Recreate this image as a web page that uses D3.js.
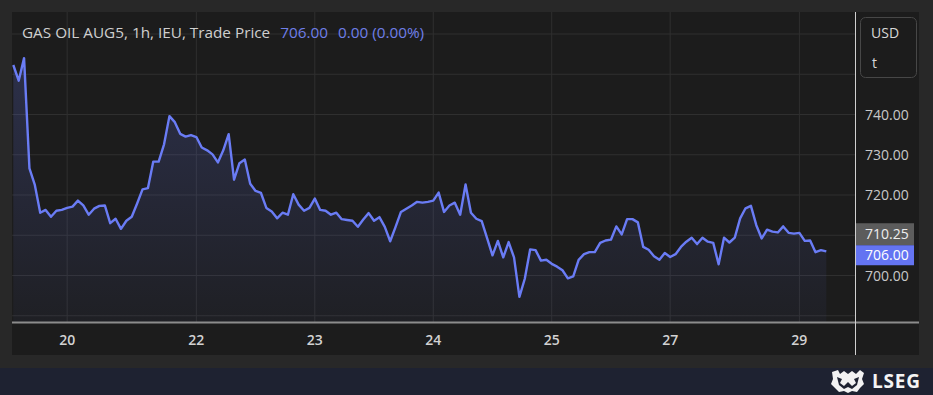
<!DOCTYPE html>
<html>
<head>
<meta charset="utf-8">
<script src="https://cdn.jsdelivr.net/npm/d3@7"></script>
<style>
  html, body { margin: 0; padding: 0; background: #282828; }
  svg { display: block; font-family: "Open Sans", sans-serif; }
</style>
</head>
<body>
<div id="chart"></div>
<script>
// Hourly trade prices, one per bar (weekend gap removed, bars are evenly spaced)
const prices = [
  752.3, 748.4, 754.0, 726.6, 722.5, 715.6, 716.3, 714.6, 716.1, 716.3,
  716.8, 717.1, 718.6, 717.4, 715.1, 716.6, 717.3, 717.4, 713.0, 714.1,
  711.6, 713.6, 714.6, 717.9, 721.4, 721.7, 728.3, 728.3, 732.6, 739.6,
  738.1, 735.2, 734.5, 734.9, 734.4, 731.8, 731.1, 730.1, 728.1, 731.1,
  735.1, 723.8, 727.9, 728.8, 722.8, 721.0, 720.5, 716.8, 715.9, 714.2,
  715.6, 715.1, 720.2, 717.6, 716.1, 716.8, 719.1, 716.3, 716.1, 715.1,
  715.6, 714.0, 713.8, 713.6, 712.1, 713.9, 715.5, 713.6, 714.5, 712.1,
  708.5, 712.1, 715.8, 716.6, 717.4, 718.3, 718.1, 718.3, 718.6, 720.6,
  715.8, 717.4, 718.1, 715.1, 722.6, 715.6, 714.1, 713.5, 709.3, 705.0,
  708.6, 704.5, 708.3, 704.5, 694.7, 699.2, 706.5, 706.3, 703.7, 703.9,
  702.9, 702.2, 701.3, 699.3, 699.8, 703.9, 705.3, 705.8, 705.8, 708.1,
  708.7, 708.9, 712.2, 710.2, 714.0, 714.0, 713.2, 707.1, 706.4, 704.8,
  703.9, 705.6, 704.6, 705.3, 707.1, 708.4, 709.4, 707.8, 709.4, 708.4,
  708.1, 702.8, 709.4, 708.2, 709.4, 714.2, 716.7, 717.3, 712.5, 709.2,
  711.4, 710.9, 710.7, 712.2, 710.6, 710.4, 710.6, 708.6, 708.7, 705.8,
  706.3, 706.0
];

// Day labels and the bar index where each day starts
const tickLabels = ["20", "22", "23", "24", "25", "27", "29"];
const tickBars = [10, 34, 56, 78, 100, 122, 146];

// Price axis
const gridPrices = [690, 700, 710, 720, 730, 740, 750, 760];
const labelPrices = [700, 720, 730, 740];
const refPrice = 710.25;
const lastPrice = 706.00;

const width = 933;
const height = 395;
const plot = { left: 12, top: 12, right: 855.5, bottom: 322 };

const svg = d3.select("#chart").append("svg")
    .attr("width", width)
    .attr("height", height);

// backgrounds
svg.append("rect").attr("width", width).attr("height", height).attr("fill", "#282828");
svg.append("rect").attr("x", 0).attr("y", 368).attr("width", width).attr("height", 27).attr("fill", "#1e2231");
svg.append("rect").attr("x", 12).attr("y", 12).attr("width", 907).attr("height", 343).attr("fill", "#1c1c1c");

// scales
const x = d3.scaleLinear()
    .domain([0, prices.length - 1])
    .range([13.3, 826.3]);

const y = d3.scaleLinear()
    .domain([700, 740])
    .range([275.5, 114.5]);

// grid
const grid = svg.append("g");
grid.selectAll(".hgrid")
    .data(gridPrices)
    .enter().append("line")
    .attr("x1", plot.left).attr("x2", plot.right)
    .attr("y1", d => y(d)).attr("y2", d => y(d))
    .attr("stroke", "#2f2f2f").attr("stroke-width", 1);

grid.selectAll(".vgrid")
    .data(tickBars)
    .enter().append("line")
    .attr("x1", d => x(d)).attr("x2", d => x(d))
    .attr("y1", plot.top).attr("y2", plot.bottom)
    .attr("stroke", "#2f2f2f").attr("stroke-width", 1);

// area gradient
const defs = svg.append("defs");
const grad = defs.append("linearGradient")
    .attr("id", "areaFill")
    .attr("gradientUnits", "userSpaceOnUse")
    .attr("x1", 0).attr("x2", 0)
    .attr("y1", y(d3.max(prices))).attr("y2", plot.bottom);
grad.append("stop").attr("offset", 0).attr("stop-color", "#6677ee").attr("stop-opacity", 0.22);
grad.append("stop").attr("offset", 1).attr("stop-color", "#6677ee").attr("stop-opacity", 0.04);

const clip = defs.append("clipPath").attr("id", "plotClip");
clip.append("rect")
    .attr("x", plot.left).attr("y", plot.top)
    .attr("width", plot.right - plot.left).attr("height", plot.bottom - plot.top);

const area = d3.area()
    .x((d, i) => x(i))
    .y0(plot.bottom)
    .y1(d => y(d));

const line = d3.line()
    .x((d, i) => x(i))
    .y(d => y(d));

const series = svg.append("g").attr("clip-path", "url(#plotClip)");
series.append("path")
    .datum(prices)
    .attr("d", area)
    .attr("fill", "url(#areaFill)");
series.append("path")
    .datum(prices)
    .attr("d", line)
    .attr("fill", "none")
    .attr("stroke", "#6a7cf5")
    .attr("stroke-width", 2.4)
    .attr("stroke-linejoin", "round");

// x axis line + labels
svg.append("line")
    .attr("x1", 12).attr("x2", 919)
    .attr("y1", plot.bottom + 0.5).attr("y2", plot.bottom + 0.5)
    .attr("stroke", "#8c8c8c").attr("stroke-width", 2);

svg.selectAll(".xlabel")
    .data(tickBars)
    .enter().append("text")
    .attr("x", d => x(d))
    .attr("y", 345)
    .attr("text-anchor", "middle")
    .attr("font-size", 14)
    .attr("font-weight", 600)
    .attr("fill", "#d2d2d2")
    .text((d, i) => tickLabels[i]);

// price scale separator
svg.append("line")
    .attr("x1", plot.right).attr("x2", plot.right)
    .attr("y1", 12).attr("y2", 355)
    .attr("stroke", "#cfcfcf").attr("stroke-width", 1);

// y labels
svg.selectAll(".ylabel")
    .data(labelPrices)
    .enter().append("text")
    .attr("x", 865)
    .attr("y", d => y(d) + 5)
    .attr("font-size", 14)
    .attr("fill", "#c8c8c8")
    .text(d => d.toFixed(2));

// reference price box
const refTop = y(refPrice) - 11;
svg.append("rect")
    .attr("x", 856).attr("y", refTop)
    .attr("width", 58).attr("height", 22)
    .attr("fill", "#5c5c5c");
svg.append("text")
    .attr("x", 865).attr("y", refTop + 16)
    .attr("font-size", 14).attr("fill", "#eeeeee")
    .text(refPrice.toFixed(2));

// last price box (pushed below the reference box)
const lastTop = Math.max(y(lastPrice) - 10, refTop + 22);
svg.append("rect")
    .attr("x", 856).attr("y", lastTop)
    .attr("width", 58).attr("height", 20)
    .attr("fill", "#6474f2");
svg.append("text")
    .attr("x", 865).attr("y", lastTop + 15)
    .attr("font-size", 14).attr("fill", "#ffffff")
    .text(lastPrice.toFixed(2));

// currency / unit box
svg.append("rect")
    .attr("x", 860.5).attr("y", 17.5)
    .attr("width", 56).attr("height", 60)
    .attr("rx", 5)
    .attr("fill", "#1c1c1c")
    .attr("stroke", "#474747");
svg.append("text").attr("x", 871).attr("y", 38).attr("font-size", 14).attr("fill", "#d8d8d8").text("USD");
svg.append("text").attr("x", 872).attr("y", 68).attr("font-size", 14).attr("fill", "#d8d8d8").text("t");

// header
const header = svg.append("text")
    .attr("x", 22).attr("y", 37.5)
    .attr("font-size", 15.3)
    .attr("fill", "#cfcfcf");
header.append("tspan").text("GAS OIL AUG5, 1h, IEU, Trade Price");
header.append("tspan").attr("dx", 10).attr("fill", "#6f7fe8").text(lastPrice.toFixed(2));
header.append("tspan").attr("dx", 10).attr("fill", "#6f7fe8").text("0.00 (0.00%)");

// LSEG mark
const logo = svg.append("g").attr("transform", "translate(830,370)");
logo.append("path")
    .attr("d", "M2 2 L8 0 L10 4 L14 1 L18 4 L22 1 L26 4 L30 0 L34 3 L32 9 L34 14 L30 18 L27 22 L22 21 L18 23 L14 21 L9 22 L5 18 L1 14 L3 9 Z")
    .attr("fill", "#f2f2f2");
logo.append("path")
    .attr("d", "M7 7 L12 9 L10 13 L14 16 L18 12 L22 16 L26 13 L24 9 L29 7 L27 15 L22 19 L18 17 L14 19 L9 15 Z")
    .attr("fill", "#1e2231");
svg.append("text")
    .attr("x", 872).attr("y", 388)
    .attr("font-size", 19)
    .attr("font-weight", 700)
    .attr("letter-spacing", 0.8)
    .attr("fill", "#f4f4f4")
    .text("LSEG");
</script>
</body>
</html>
